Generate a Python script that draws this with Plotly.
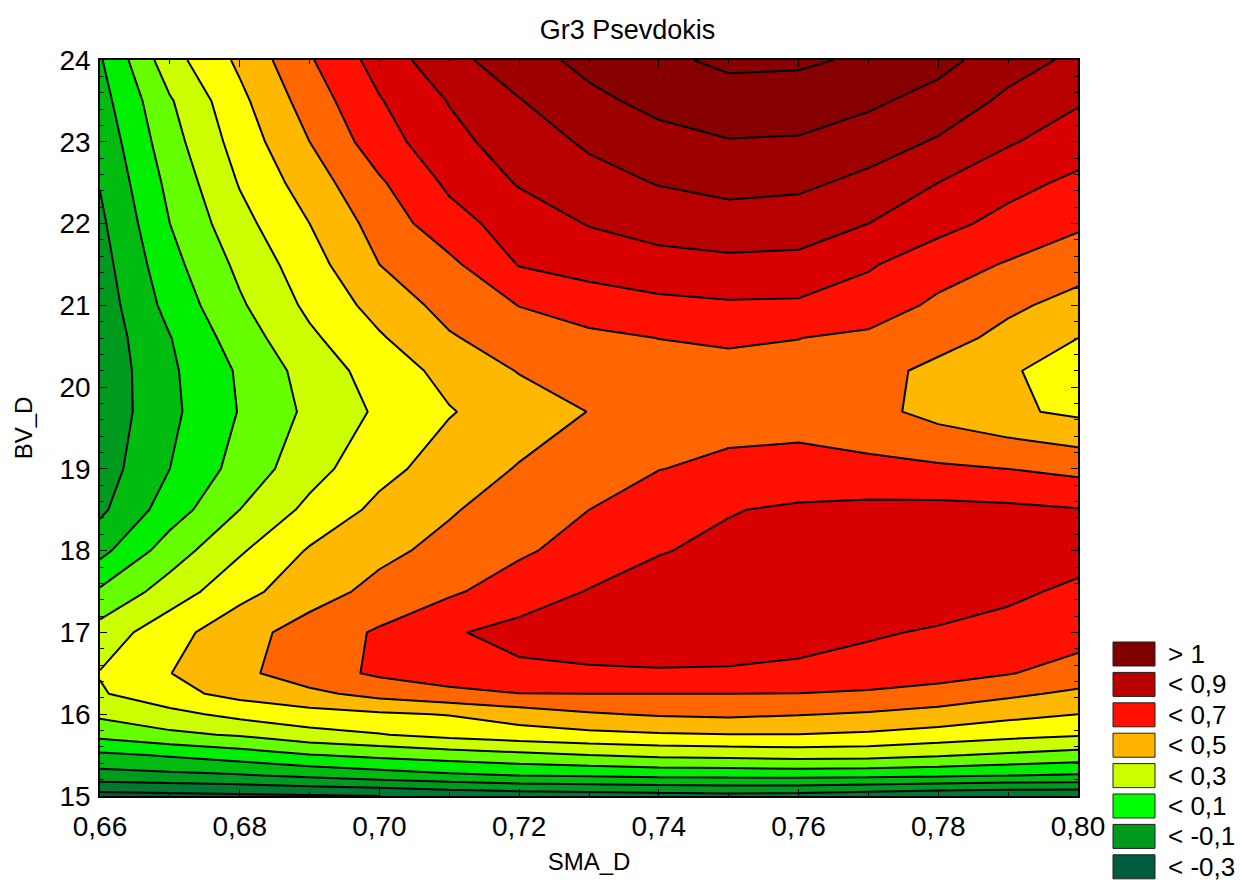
import plotly.graph_objects as go

# ---- data ----
sma_d = [0.66, 0.67, 0.68, 0.69, 0.70, 0.71, 0.72, 0.73, 0.74, 0.75, 0.76, 0.77, 0.78, 0.79, 0.80]
bv_d = [15, 15.25, 15.5, 15.75, 16, 16.25, 16.5, 17, 17.5, 18, 18.5, 19, 19.7, 20.2, 20.6,
        21, 21.5, 22, 22.5, 23, 23.5, 24]

z_15_00 = [-0.34, -0.33, -0.32, -0.31, -0.30, -0.28, -0.26, -0.25, -0.24, -0.23, -0.24, -0.26, -0.28, -0.29, -0.29]
z_15_25 = [-0.14, -0.125, -0.11, -0.08, -0.05, -0.02, 0.0, 0.01, 0.02, 0.025, 0.03, 0.025, 0.015, 0.0, -0.01]
z_15_50 = [-0.02, 0.01, 0.05, 0.095, 0.125, 0.15, 0.175, 0.2, 0.22, 0.23, 0.24, 0.235, 0.21, 0.185, 0.16]
z_15_75 = [0.13, 0.18, 0.21, 0.265, 0.295, 0.33, 0.355, 0.375, 0.39, 0.398, 0.398, 0.385, 0.36, 0.33, 0.31]
z_16_00 = [0.22, 0.27, 0.33, 0.365, 0.385, 0.405, 0.45, 0.49, 0.51, 0.52, 0.505, 0.49, 0.465, 0.43, 0.40]
z_16_25 = [0.29, 0.37, 0.43, 0.475, 0.535, 0.575, 0.598, 0.6, 0.6, 0.6, 0.598, 0.585, 0.56, 0.52, 0.48]
z_16_50 = [0.305, 0.398, 0.475, 0.56, 0.615, 0.648, 0.68, 0.688, 0.692, 0.69, 0.68, 0.665, 0.64, 0.605, 0.56]
z_17_00 = [0.24, 0.365, 0.46, 0.545, 0.612, 0.69, 0.73, 0.745, 0.75, 0.748, 0.735, 0.71, 0.69, 0.665, 0.64]
z_17_50 = [0.115, 0.245, 0.37, 0.455, 0.53, 0.585, 0.65, 0.705, 0.735, 0.755, 0.765, 0.77, 0.75, 0.72, 0.68]
z_18_00 = [-0.03, 0.15, 0.288, 0.41, 0.475, 0.53, 0.585, 0.64, 0.695, 0.72, 0.74, 0.75, 0.755, 0.75, 0.74]
z_18_50 = [-0.12, 0.05, 0.2, 0.325, 0.425, 0.49, 0.55, 0.6, 0.655, 0.695, 0.715, 0.725, 0.727, 0.72, 0.705]
z_19_00 = [-0.15, 0.0, 0.137, 0.262, 0.37, 0.445, 0.507, 0.555, 0.598, 0.62, 0.63, 0.625, 0.615, 0.60, 0.573]
z_19_70 = [-0.168, -0.023, 0.105, 0.221, 0.316, 0.394, 0.448, 0.502, 0.54, 0.565, 0.565, 0.53, 0.468, 0.417, 0.38]
z_20_20 = [-0.17, -0.017, 0.113, 0.241, 0.345, 0.431, 0.505, 0.545, 0.57, 0.585, 0.58, 0.54, 0.47, 0.41, 0.36]
z_20_60 = [-0.163, -0.004, 0.15, 0.281, 0.389, 0.49, 0.55, 0.58, 0.601, 0.607, 0.601, 0.58, 0.54, 0.47, 0.40]
z_21_00 = [-0.155, 0.033, 0.186, 0.322, 0.437, 0.534, 0.602, 0.645, 0.675, 0.688, 0.685, 0.655, 0.58, 0.52, 0.464]
z_21_50 = [-0.14, 0.067, 0.223, 0.359, 0.5, 0.577, 0.705, 0.74, 0.765, 0.777, 0.772, 0.71, 0.645, 0.592, 0.542]
z_22_00 = [-0.12, 0.1, 0.267, 0.4, 0.541, 0.662, 0.745, 0.805, 0.84, 0.857, 0.85, 0.8, 0.73, 0.67, 0.616]
z_22_50 = [-0.095, 0.127, 0.307, 0.45, 0.587, 0.719, 0.808, 0.864, 0.905, 0.93, 0.92, 0.875, 0.80, 0.73, 0.68]
z_23_00 = [-0.07, 0.16, 0.343, 0.5, 0.655, 0.77, 0.848, 0.915, 0.965, 0.995, 0.99, 0.945, 0.89, 0.81, 0.747]
z_23_50 = [-0.04, 0.19, 0.375, 0.546, 0.693, 0.805, 0.895, 0.975, 1.03, 1.058, 1.055, 1.02, 0.96, 0.88, 0.81]
z_24_00 = [-0.01, 0.26, 0.42, 0.59, 0.74, 0.87, 0.955, 1.03, 1.08, 1.12, 1.115, 1.085, 1.035, 0.94, 0.88]

z_rows = [z_15_00, z_15_25, z_15_50, z_15_75, z_16_00, z_16_25, z_16_50, z_17_00, z_17_50,
          z_18_00, z_18_50, z_19_00, z_19_70, z_20_20, z_20_60, z_21_00, z_21_50, z_22_00,
          z_22_50, z_23_00, z_23_50, z_24_00]

# contour levels and band colours (band below first level ... band above last level)
level_start, level_end, level_step = -0.3, 1.1, 0.1
band_colors = ["#005c3e", "#007a30", "#009a1e", "#00bc10", "#00ee00", "#66ff00", "#ccff00",
               "#ffff00", "#ffb800", "#ff6600", "#ff1000", "#d80000", "#b80000", "#9e0000",
               "#860000", "#860000"]

legend_labels = ["> 1", "< 0,9", "< 0,7", "< 0,5", "< 0,3", "< 0,1", "< -0,1", "< -0,3"]
legend_colors = ["#800000", "#b80000", "#ff1000", "#ffb400", "#ccff00", "#00ff00", "#009a1e", "#005c3e"]

x_ticks = [0.66, 0.68, 0.70, 0.72, 0.74, 0.76, 0.78, 0.80]
x_ticktext = ["0,66", "0,68", "0,70", "0,72", "0,74", "0,76", "0,78", "0,80"]
y_ticks = [15, 16, 17, 18, 19, 20, 21, 22, 23, 24]

FONT = "Liberation Sans, Arial, sans-serif"

n_bands = len(band_colors)
colorscale = [[k / (n_bands - 1), c] for k, c in enumerate(band_colors)]

fig = go.Figure()
fig.add_trace(go.Contour(
    x=sma_d, y=bv_d, z=z_rows,
    autocontour=False,
    contours=dict(start=level_start, end=level_end, size=level_step, coloring="fill"),
    colorscale=colorscale,
    line=dict(color="black", width=2, smoothing=0),
    showscale=False,
    hoverinfo="skip",
))

# legend (swatches + labels) built from the legend arrays
W, H = 1240, 884
L, R, T, B = 100, 1078, 60, 796
pw, ph = R - L, B - T
sw_x0, sw_x1 = 1113, 1155
row0, row_h, sw_h = 642, 30.4, 24
for i, (lab, col) in enumerate(zip(legend_labels, legend_colors)):
    top = row0 + i * row_h
    fig.add_shape(type="rect", xref="paper", yref="paper",
                  x0=(sw_x0 - L) / pw, x1=(sw_x1 - L) / pw,
                  y0=(B - (top + sw_h)) / ph, y1=(B - top) / ph,
                  fillcolor=col, line=dict(color="#202020", width=1))
    fig.add_annotation(xref="paper", yref="paper",
                       x=(1166 - L) / pw, y=(B - (top + sw_h / 2)) / ph,
                       text=lab, showarrow=False, xanchor="left", yanchor="middle",
                       font=dict(family=FONT, size=26, color="black"))

fig.update_layout(
    width=W, height=H,
    paper_bgcolor="white", plot_bgcolor="white",
    margin=dict(l=L, r=W - R, t=T, b=H - B),
    title=dict(text="Gr3 Psevdokis", x=0.506, xref="container", y=1 - 30 / H, yref="container",
               xanchor="center", yanchor="middle",
               font=dict(family=FONT, size=27, color="black")),
    showlegend=False,
    font=dict(family=FONT, size=26, color="black"),
)
fig.update_xaxes(range=[0.66, 0.80], tickvals=x_ticks, ticktext=x_ticktext, automargin=False,
                 ticks="inside", ticklen=7, tickcolor="black", showline=True, linecolor="black",
                 linewidth=1.5, mirror="allticks", showgrid=False, zeroline=False,
                 ticklabelstandoff=5,
                 minor=dict(dtick=0.01, ticks="inside", ticklen=4, tickcolor="black"),
                 title=dict(text="SMA_D", font=dict(family=FONT, size=24), standoff=12),
                 tickfont=dict(family=FONT, size=28))
fig.update_yaxes(range=[15, 24], tickvals=y_ticks, automargin=False,
                 ticks="inside", ticklen=7, tickcolor="black", showline=True, linecolor="black",
                 linewidth=1.5, mirror="allticks", showgrid=False, zeroline=False,
                 ticklabelstandoff=2,
                 minor=dict(dtick=0.2, ticks="inside", ticklen=4, tickcolor="black"),
                 title=dict(text="BV_D", font=dict(family=FONT, size=24), standoff=20),
                 tickfont=dict(family=FONT, size=28))

fig.write_html("out.html", config={"displayModeBar": False},
               post_script="document.body.style.margin='0';document.body.style.padding='0';")
